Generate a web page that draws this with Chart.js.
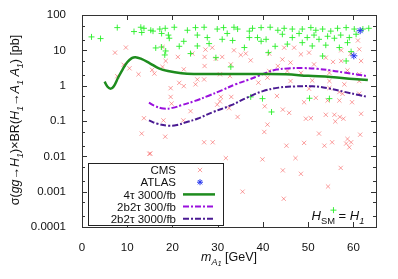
<!DOCTYPE html>
<html>
<head>
<meta charset="utf-8">
<script src="https://cdn.jsdelivr.net/npm/chart.js@4.4.1/dist/chart.umd.min.js"></script>
<style>
  html, body { margin: 0; padding: 0; background: #fff; }
  #wrap { width: 398px; height: 279px; }
</style>
</head>
<body>
<div id="wrap"><canvas id="chart" width="398" height="279"></canvas></div>
<script>
// axis ticks
const xTicks = [0, 10, 20, 30, 40, 50, 60];
const yTicks = [0.0001, 0.001, 0.01, 0.1, 1, 10, 100];
const yTickLabels = ['0.0001', '0.001', '0.01', '0.1', '1', '10', '100'];

// scan points [mA1, sigma x BR]
const cmsPoints = [
  [7.3, 8.6], [9.7, 12], [9.2, 3.9], [7.8, 1.85], [10.5, 3.1], [12.5, 2.1], [15.5, 2.8], [16, 2.2],
  [17.8, 12.4], [17.8, 3.4], [18.5, 5], [21.2, 6.5], [21.5, 1.2], [19.6, 0.85], [19.6, 0.48], [19.8, 0.31],
  [13.7, 0.12], [18, 0.104], [13.2, 0.044], [18.4, 0.036], [15.1, 0.012],
  [22.5, 2.9], [25.5, 1.5], [27, 1.5], [25.1, 1.09], [24.4, 8.1], [27.1, 6.5], [28.8, 11.9], [31, 6.5],
  [29.6, 5.8], [27.1, 3.6], [32.9, 4], [33.6, 10], [35.1, 7.4], [36.2, 8.1], [30.5, 2.1], [32.7, 1.87],
  [39, 1.22], [41, 1.69], [43.3, 3.6], [41.4, 2.6], [22.5, 0.97], [37.3, 5.2], [41.4, 8.1], [27.3, 10.5],
  [44.7, 11.9], [46.9, 11.9], [48.4, 7.7], [50.2, 8.6], [53.9, 6.2], [57.3, 10], [57.3, 5], [61.3, 10.7],
  [61.7, 5], [44.3, 5.5], [46.1, 4.5], [45.4, 2.6], [48.4, 2.3], [51.3, 4], [54.7, 2.3], [58.7, 2.7],
  [61.3, 2.1], [46.1, 1.35], [50.9, 1.4], [54.7, 1.35], [58, 1.09], [61.3, 1.35], [61, 19], [59.4, 8], [55.5, 4.7],
  [30.7, 0.48], [33, 0.48], [29.9, 0.29], [30.5, 0.36], [32.5, 0.23], [24, 0.19], [22.4, 0.104], [34.4, 0.13],
  [40.4, 0.26], [41, 0.079], [40.3, 0.049], [27, 0.025], [28.9, 0.025], [31.8, 0.0089], [39.9, 0.0082], [43.1, 0.51],
  [44.4, 0.21], [45.8, 0.17], [49.1, 0.34], [51.7, 0.45], [54.3, 0.38], [56.9, 0.38], [59.7, 0.34], [57.6, 0.59],
  [49.5, 0.116], [50.6, 0.12], [53.9, 0.15], [55.8, 0.15], [57, 0.13], [57.8, 0.116], [61.7, 0.16], [56, 0.097],
  [52.4, 0.044], [55.3, 0.025], [53.6, 0.02], [58.7, 0.031], [58.4, 0.023], [59.5, 0.025], [59.1, 0.018],
  [61.5, 0.041], [49.1, 0.024], [45.2, 0.02], [47.2, 0.0089], [50.2, 0.82], [54.7, 0.86], [56.9, 0.66], [61.3, 0.59],
  [44.4, 0.004], [48.4, 0.0032], [57.2, 0.0047], [35.5, 0.001], [44.6, 0.00063], [54.4, 0.0014], [14.9, 0.0118]
];
const atlasPoints = [[61.5, 36], [60.1, 7]];
const otherPoints = [
  [2.1, 24], [4.1, 21.5], [7.8, 44], [11.5, 34], [13, 45], [13.7, 42], [13.2, 32], [15.2, 37], [15.7, 35],
  [17.2, 40], [18.4, 42], [17.6, 30], [20.4, 45], [19.3, 22], [19.1, 27], [21.5, 13], [16.3, 11.7], [17.6, 12.4],
  [18.5, 9.6], [18.3, 7.4],
  [23.3, 37], [25.1, 44], [27, 45], [29.9, 40], [31.3, 44], [33.6, 45], [34.4, 40], [37, 35], [37.7, 42],
  [39.6, 44], [41.6, 45], [43.3, 37], [22.5, 18], [25.5, 27], [27.7, 23], [25.5, 13.3], [28.1, 15.5], [31, 20.5],
  [32.1, 30], [33.3, 19], [35.9, 12], [37, 23], [38.8, 23], [39.6, 18], [40.7, 20.5], [42.7, 13], [41.2, 8.6],
  [29.6, 6.2], [32.9, 3.4], [24, 8.1],
  [44.7, 42], [46.5, 40], [48.7, 40], [50.6, 44], [51.7, 37], [53.2, 40], [55, 35], [56.5, 42], [58.4, 44],
  [60.2, 40], [62.1, 40], [63.4, 42], [44.3, 28.5], [46.5, 23], [48, 30], [49.8, 23], [51.3, 27], [52.4, 20.5],
  [54.3, 25], [55.8, 22], [57.2, 27], [59.1, 23], [60.6, 28.5], [45.4, 15], [48.7, 16.5], [50.9, 13.3], [53.9, 14],
  [56.9, 12], [58.7, 16.5], [59.5, 9.2], [58.4, 5], [53.2, 6.9],
  [37.3, 0.48], [39.9, 0.43], [41.9, 0.18], [50.3, 0.44], [54.7, 0.43], [55.6, 0.0003]
];

// projected reach curves
const tau4X = [5, 5.6, 6.3, 7, 8, 9, 10, 11, 11.8, 13, 15, 17, 19, 22, 25, 30, 35, 40, 45, 50, 55, 60, 63.2];
const tau4Y = [1.3, 0.95, 0.82, 0.95, 1.7, 2.9, 4.6, 6.0, 6.4, 5.8, 4.3, 3.1, 2.6, 2.25, 2.15, 2.15, 2.15, 2.15, 2.1, 1.9, 1.75, 1.55, 1.44];
const bbtt300X = [14.8, 16, 18, 20, 22, 25, 28, 31, 34, 37, 39, 41, 43, 46, 49, 52, 55, 58, 61, 63.2];
const bbtt300Y = [0.33, 0.27, 0.225, 0.235, 0.28, 0.37, 0.52, 0.75, 1.1, 1.5, 1.9, 2.4, 2.85, 3.1, 3.15, 3.0, 2.7, 2.35, 2.05, 1.85];
const bbtt3000X = [14.8, 16.5, 19, 21, 23, 25.5, 29, 33, 36.5, 40, 43.5, 47, 51, 54.5, 58, 61, 63.2];
const bbtt3000Y = [0.104, 0.085, 0.074, 0.077, 0.092, 0.116, 0.18, 0.28, 0.46, 0.7, 0.88, 0.95, 0.96, 0.84, 0.67, 0.55, 0.48];

const toXY = (xs, ys) => xs.map((x, i) => ({ x: x, y: ys[i] }));
const pts = arr => arr.map(p => ({ x: p[0], y: p[1] }));

const FONT = '"Liberation Sans", Arial, sans-serif';
const TEXT = '#111';
const cmsColor = 'rgba(245,80,80,0.55)';
const atlasColor = '#2233ee';
const otherColor = 'rgba(40,238,40,0.9)';
const tau4Color = '#1e8c1e';
const v300Color = '#9a10dd';
const v3000Color = '#4a1a92';
const dashDot = [6, 2, 2, 2];

// draw mixed italic / subscript text
function richText(ctx, parts, x, y, size) {
  const spec = parts.map(p => {
    const st = p[1] || '';
    const italic = st.indexOf('i') >= 0;
    let s = size, dy = 0;
    if (st.indexOf('ss') >= 0) { s = size * 0.6; dy = size * 0.42; }
    else if (st.indexOf('s') >= 0) { s = size * 0.72; dy = size * 0.28; }
    const font = (italic ? 'italic ' : '') + s + 'px ' + FONT;
    ctx.font = font;
    return { t: p[0], font: font, dy: dy, w: ctx.measureText(p[0]).width };
  });
  const total = spec.reduce((a, b) => a + b.w, 0);
  let cx = x - total / 2;
  ctx.textAlign = 'left';
  ctx.textBaseline = 'alphabetic';
  spec.forEach(s => {
    ctx.font = s.font;
    ctx.fillText(s.t, cx, y + s.dy);
    cx += s.w;
  });
}

const legendItems = [
  { label: 'CMS', marker: 'crossRot', color: cmsColor },
  { label: 'ATLAS', marker: 'star', color: atlasColor },
  { label: '4\u03c4 3000/fb', line: tau4Color, width: 2.5, dash: [] },
  { label: '2b2\u03c4 300/fb', line: v300Color, width: 2, dash: dashDot },
  { label: '2b2\u03c4 3000/fb', line: v3000Color, width: 2, dash: dashDot }
];

const decor = {
  id: 'decor',
  afterDraw(chart) {
    const ctx = chart.ctx;
    const a = chart.chartArea;
    const xs = chart.scales.x, ys = chart.scales.y;
    ctx.save();
    ctx.strokeStyle = '#333';
    ctx.lineWidth = 1;
    ctx.setLineDash([]);
    // inward ticks, mirrored
    ctx.beginPath();
    xTicks.forEach(v => {
      const px = Math.round(xs.getPixelForValue(v)) + 0.5;
      ctx.moveTo(px, a.bottom); ctx.lineTo(px, a.bottom - 5);
      ctx.moveTo(px, a.top); ctx.lineTo(px, a.top + 5);
    });
    yTicks.forEach((v, i) => {
      const py = Math.round(ys.getPixelForValue(v)) + 0.5;
      ctx.moveTo(a.left, py); ctx.lineTo(a.left + 5, py);
      ctx.moveTo(a.right, py); ctx.lineTo(a.right - 5, py);
      if (i < yTicks.length - 1) {
        [2, 5].forEach(m => {
          const pm = Math.round(ys.getPixelForValue(v * m)) + 0.5;
          ctx.moveTo(a.left, pm); ctx.lineTo(a.left + 3, pm);
          ctx.moveTo(a.right, pm); ctx.lineTo(a.right - 3, pm);
        });
      }
    });
    ctx.stroke();
    ctx.strokeRect(Math.round(a.left) + 0.5, Math.round(a.top) + 0.5,
      Math.round(a.right - a.left), Math.round(a.bottom - a.top));

    // legend box
    const bx = 88, by = 163, bw = 135, bh = 62;
    ctx.fillStyle = '#fff';
    ctx.fillRect(bx, by, bw, bh);
    ctx.strokeStyle = '#222';
    ctx.strokeRect(bx + 0.5, by + 0.5, bw, bh);
    legendItems.forEach((it, i) => {
      const yy = 170 + i * 12.2;
      ctx.fillStyle = TEXT;
      ctx.font = '11.5px ' + FONT;
      ctx.textAlign = 'right';
      ctx.textBaseline = 'middle';
      ctx.fillText(it.label, 176, yy + 1);
      if (it.marker) {
        ctx.strokeStyle = it.color;
        ctx.lineWidth = 1;
        Chart.helpers.drawPoint(ctx, { pointStyle: it.marker, radius: 3, rotation: 0, borderWidth: 1 }, 200, yy);
      } else {
        ctx.strokeStyle = it.line;
        ctx.lineWidth = it.width;
        ctx.setLineDash(it.dash);
        ctx.beginPath();
        ctx.moveTo(183, yy); ctx.lineTo(215, yy);
        ctx.stroke();
        ctx.setLineDash([]);
      }
    });

    // annotation and axis titles
    ctx.fillStyle = TEXT;
    richText(ctx, [['H', 'i'], ['SM', 's'], [' = '], ['H', 'i'], ['1', 'is']], 338, 220, 13);
    richText(ctx, [['m', 'i'], ['A', 'is'], ['1', 'iss'], [' [GeV]']], 229, 261, 12.5);
    ctx.translate(19, 120);
    ctx.rotate(-Math.PI / 2);
    richText(ctx, [['\u03c3(', ''], ['gg', 'i'], ['\u2192'], ['H', 'i'], ['1', 'is'], [')\u00d7BR('],
      ['H', 'i'], ['1', 'is'], ['\u2192'], ['A', 'i'], ['1', 'is'], [' '], ['A', 'i'], ['1', 'is'], [') [pb]']], 0, 0, 12.5);
    ctx.restore();
  }
};

new Chart(document.getElementById('chart'), {
  type: 'scatter',
  data: {
    datasets: [
      { label: '4\u03c4 3000/fb', data: toXY(tau4X, tau4Y), showLine: true, tension: 0.4,
        borderColor: tau4Color, borderWidth: 2.5, pointRadius: 0, order: 1 },
      { label: '2b2\u03c4 300/fb', data: toXY(bbtt300X, bbtt300Y), showLine: true, tension: 0.4,
        borderColor: v300Color, borderWidth: 2, borderDash: dashDot, pointRadius: 0, order: 1 },
      { label: '2b2\u03c4 3000/fb', data: toXY(bbtt3000X, bbtt3000Y), showLine: true, tension: 0.4,
        borderColor: v3000Color, borderWidth: 2, borderDash: dashDot, pointRadius: 0, order: 1 },
      { label: 'ATLAS', data: pts(atlasPoints), pointStyle: 'star', pointRadius: 3.5,
        borderColor: atlasColor, borderWidth: 1, order: 2 },
      { label: 'other', data: pts(otherPoints), pointStyle: 'cross', pointRadius: 3,
        borderColor: otherColor, borderWidth: 1, order: 3 },
      { label: 'CMS', data: pts(cmsPoints), pointStyle: 'crossRot', pointRadius: 3,
        borderColor: cmsColor, borderWidth: 1, order: 4 }
    ]
  },
  options: {
    responsive: false,
    animation: false,
    layout: { padding: { top: 15, right: 22, left: 0, bottom: 0 } },
    plugins: { legend: { display: false }, tooltip: { enabled: false } },
    scales: {
      x: {
        type: 'linear', min: 0, max: 65,
        grid: { display: false }, border: { display: false },
        afterBuildTicks: s => { s.ticks = xTicks.map(v => ({ value: v })); },
        afterFit: s => { s.height = 52; },
        ticks: { autoSkip: false, maxRotation: 0, padding: 6, color: TEXT, font: { family: FONT, size: 11.5 } }
      },
      y: {
        type: 'logarithmic', min: 0.0001, max: 100,
        grid: { display: false }, border: { display: false },
        afterBuildTicks: s => { s.ticks = yTicks.map(v => ({ value: v })); },
        afterFit: s => { s.width = 82; },
        ticks: {
          autoSkip: false, padding: 8, color: TEXT, font: { family: FONT, size: 11.5 },
          callback: v => { const i = yTicks.indexOf(v); return i >= 0 ? yTickLabels[i] : ''; }
        }
      }
    }
  },
  plugins: [decor]
});
</script>
</body>
</html>
